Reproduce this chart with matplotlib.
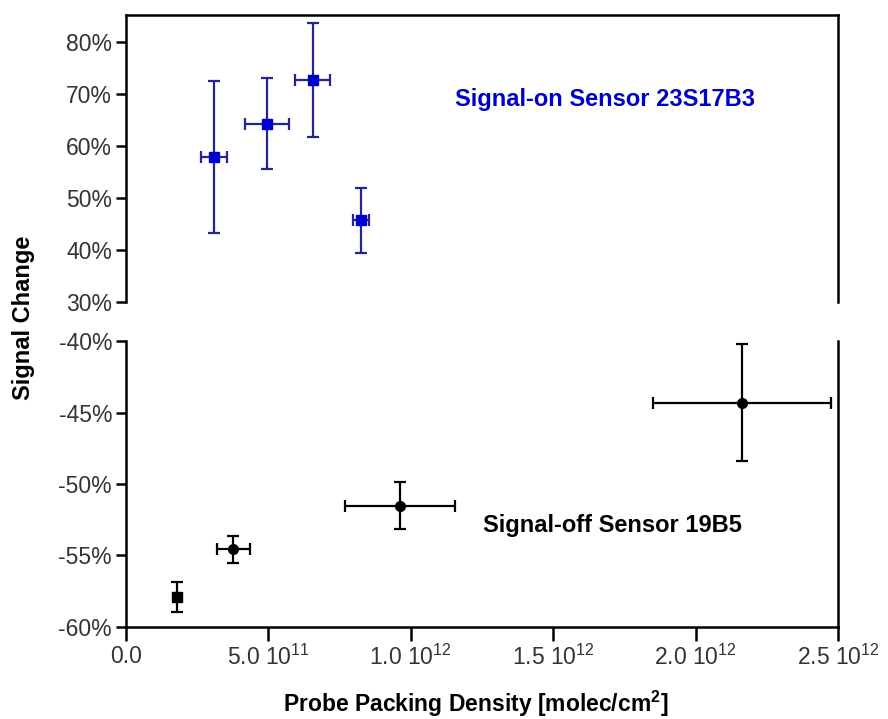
"""
Signal change vs probe packing density for a signal-on and a signal-off
sensor, drawn on a broken y axis (two stacked panels sharing x).
"""
import matplotlib
matplotlib.use("Agg")
import matplotlib.pyplot as plt

plt.rcParams["font.family"] = ["Liberation Sans", "DejaVu Sans"]

# Signal-on sensor 23S17B3 (blue squares), x in molec/cm^2, y in %
on_x = [0.309e12, 0.496e12, 0.655e12, 0.825e12]
on_xerr = [0.047e12, 0.077e12, 0.061e12, 0.028e12]
on_y = [57.9, 64.3, 72.7, 45.7]
on_yerr = [14.6, 8.7, 11.0, 6.3]

# Signal-off sensor 19B5 (black), first point is a square
off_x = [0.178e12, 0.377e12, 0.961e12, 2.163e12]
off_xerr = [0.0, 0.057e12, 0.193e12, 0.313e12]
off_y = [-57.9, -54.56, -51.52, -44.32]
off_yerr = [1.05, 0.95, 1.63, 4.1]

x_ticks = [0.0, 0.5e12, 1.0e12, 1.5e12, 2.0e12, 2.5e12]
x_ticklabels = ["0.0", r"5.0 $\mathregular{10^{11}}$", r"1.0 $\mathregular{10^{12}}$",
                r"1.5 $\mathregular{10^{12}}$", r"2.0 $\mathregular{10^{12}}$",
                r"2.5 $\mathregular{10^{12}}$"]
top_ticks = [30, 40, 50, 60, 70, 80]
bot_ticks = [-60, -55, -50, -45, -40]

BLUE = "#0000cc"
BLUE_BAR = "#24249a"
TICK_COL = "#333333"

fig = plt.figure(figsize=(8.88, 7.19), dpi=100)
ax_top = fig.add_axes([0.1419, 0.5800, 0.8018, 0.3991])
ax_bot = fig.add_axes([0.1419, 0.1280, 0.8018, 0.3977])

for ax in (ax_top, ax_bot):
    for sp in ax.spines.values():
        sp.set_linewidth(1.8)
    ax.set_xlim(0, 2.5e12)
    ax.tick_params(axis="both", direction="out", length=7, width=1.8,
                   labelsize=16.5, labelcolor=TICK_COL, pad=3)

# top panel
ax_top.errorbar(on_x, on_y, xerr=on_xerr, yerr=on_yerr, fmt="s", ms=7.5,
                color=BLUE, ecolor=BLUE_BAR, elinewidth=1.6, capsize=4,
                capthick=1.6, zorder=3)
ax_top.set_ylim(30, 85.2)
ax_top.set_yticks(top_ticks)
ax_top.set_yticklabels([f"{t}%" for t in top_ticks])
ax_top.spines["bottom"].set_visible(False)
ax_top.tick_params(axis="x", bottom=False, labelbottom=False)
ax_top.text(1.155e12, 68.9, "Signal-on Sensor 23S17B3", color=BLUE,
            fontsize=17, fontweight="bold", va="center", ha="left")

# bottom panel
ax_bot.errorbar(off_x[:1], off_y[:1], yerr=off_yerr[:1], fmt="s", ms=7.5,
                color="black", elinewidth=1.6, capsize=4, capthick=1.6, zorder=3)
ax_bot.errorbar(off_x[1:], off_y[1:], xerr=off_xerr[1:], yerr=off_yerr[1:],
                fmt="o", ms=7, color="black", elinewidth=1.6, capsize=4,
                capthick=1.6, zorder=3)
ax_bot.set_ylim(-60, -40)
ax_bot.set_yticks(bot_ticks)
ax_bot.set_yticklabels([f"{t}%" for t in bot_ticks])
ax_bot.spines["top"].set_visible(False)
ax_bot.set_xticks(x_ticks)
ax_bot.set_xticklabels(x_ticklabels)
ax_bot.tick_params(axis="x", length=10, pad=3)
ax_bot.text(1.254e12, -52.9, "Signal-off Sensor 19B5", color="black",
            fontsize=17, fontweight="bold", va="center", ha="left")

fig.text(0.536, 0.021, r"Probe Packing Density [molec/cm$\mathregular{^2}$]",
         fontsize=16.5, fontweight="bold", ha="center", va="center")
fig.text(0.027, 0.558, "Signal Change", fontsize=17, fontweight="bold",
         rotation=90, ha="center", va="center")

fig.savefig("out.png", dpi=100)
